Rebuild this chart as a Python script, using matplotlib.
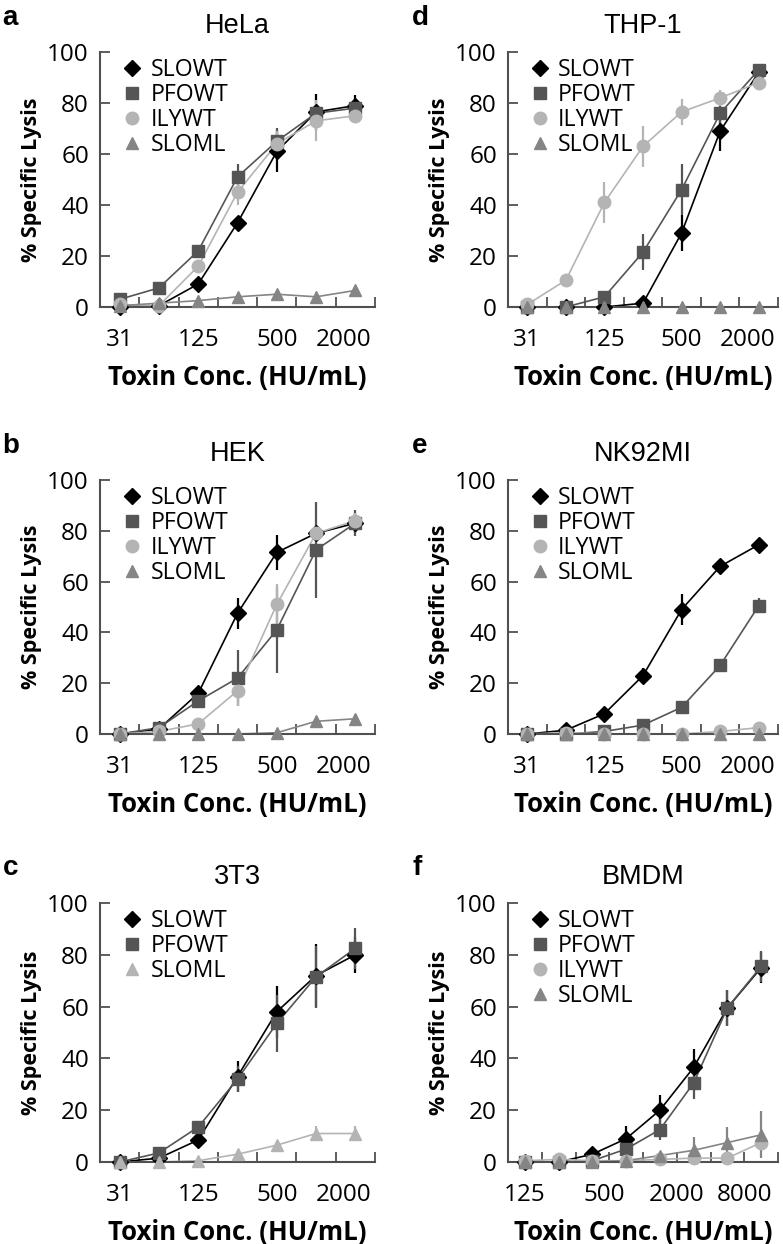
import numpy as np
import matplotlib
matplotlib.use("Agg")
import matplotlib.pyplot as plt
from matplotlib.lines import Line2D

plt.rcParams['font.family'] = ['Open Sans', 'DejaVu Sans']

# x categories (toxin conc, HU/mL)
conc_std = ['31', '62.5', '125', '250', '500', '1000', '2000']
conc_bmdm = ['125', '250', '500', '1000', '2000', '4000', '8000', '16000']
ticklabels_std = ['31', '125', '500', '2000']
ticklabels_bmdm = ['125', '500', '2000', '8000']

# a - HeLa
hela_slowt = [0, 0.5, 9, 33, 61, 76.5, 79]
hela_slowt_err = [0.5, 0.5, 1, 2, 8, 7, 4]
hela_pfowt = [3, 7.5, 22, 51, 65, 76, 78]
hela_pfowt_err = [1, 1, 2, 5, 5, 3, 3]
hela_ilywt = [1, 0.5, 16, 45, 64, 73, 75]
hela_ilywt_err = [0.5, 0.5, 1, 5, 5, 8, 2]
hela_sloml = [0.5, 1.5, 2.5, 4, 5, 4, 6.5]
hela_sloml_err = [0.5, 0.5, 0.5, 0.5, 0.5, 0.5, 0.5]

# d - THP-1
thp_slowt = [0, 0, 0, 1.5, 29, 69, 92]
thp_slowt_err = [0, 0, 0, 0.5, 7, 8, 2]
thp_pfowt = [0, 0, 4, 21.5, 46, 76, 93]
thp_pfowt_err = [0, 0, 1, 7, 10, 4, 2]
thp_ilywt = [1, 10.5, 41, 63, 76.5, 82, 88]
thp_ilywt_err = [0.5, 1, 8, 8, 5, 3, 2]
thp_sloml = [0, 0, 0, 0, 0, 0, 0]
thp_sloml_err = [0, 0, 0, 0, 0, 0, 0]

# b - HEK
hek_slowt = [0, 2, 16, 47.5, 71.5, 79, 83]
hek_slowt_err = [0, 0.5, 1, 6, 7, 3, 4]
hek_pfowt = [0, 2.5, 13, 22, 41, 72.5, 83]
hek_pfowt_err = [0, 0.5, 2, 11, 17, 19, 5]
hek_ilywt = [0, 1, 4, 17, 51, 79, 84]
hek_ilywt_err = [0, 0.5, 1, 6, 8, 3, 3]
hek_sloml = [0, 0, 0, 0, 0.5, 5, 6]
hek_sloml_err = [0, 0, 0, 0, 0.5, 1, 1]

# e - NK92MI
nk_slowt = [0, 1.5, 8, 23, 49, 66, 74.5]
nk_slowt_err = [0, 0.5, 1, 3, 6, 1.5, 1]
nk_pfowt = [0, 0, 1, 3.5, 10.5, 27, 50.5]
nk_pfowt_err = [0, 0, 0.5, 1, 1, 1.5, 3]
nk_ilywt = [0, 0.5, 0, 0, 0, 1, 2.5]
nk_ilywt_err = [0, 0, 0, 0, 0, 0, 0.5]
nk_sloml = [0, 0, 0, 0, 0, 0, 0]
nk_sloml_err = [0, 0, 0, 0, 0, 0, 0]

# c - 3T3
t3_slowt = [0, 1.5, 8.5, 33, 58, 72, 80]
t3_slowt_err = [0, 0.5, 1, 6, 10, 12, 7]
t3_pfowt = [0, 3.5, 13.5, 32, 53.5, 71.5, 82.5]
t3_pfowt_err = [0, 1, 2, 5, 11, 12, 8]
t3_sloml = [0, 0, 0.5, 3, 6.5, 11, 11]
t3_sloml_err = [0, 0, 0.5, 1, 1, 3, 3]

# f - BMDM
bm_slowt = [0, 0, 3, 9, 20, 36.5, 59.5, 75]
bm_slowt_err = [0, 0, 1, 5, 6, 7, 7, 6]
bm_pfowt = [0, 0, 0.5, 5, 12.5, 30.5, 59.5, 75.5]
bm_pfowt_err = [0, 0, 0.5, 2, 4, 6, 7, 6]
bm_ilywt = [0.5, 1, 0.5, 0.5, 1, 1.5, 1.5, 7.5]
bm_ilywt_err = [0, 0, 0, 0, 0, 1, 1, 3]
bm_sloml = [0, 0, 0, 0.5, 2.5, 4.5, 7.5, 10.5]
bm_sloml_err = [0, 0, 0, 0.5, 1, 5, 6, 9]

# style per series: marker, colour, marker size
STY = {
    'SLOWT': ('D', '#000000', 8),
    'PFOWT': ('s', '#555555', 9),
    'ILYWT': ('o', '#b4b4b4', 9),
    'SLOML': ('^', '#858585', 9),
}

AXCOL = '#505050'
ARIAL = ['Liberation Sans', 'DejaVu Sans']


def panel(ax, letter, title, cats, series, ticklabels, tickpos, sloml_col=None):
    x = np.arange(len(cats))
    handles = []
    for name, y, err in series:
        mk, col, ms = STY[name]
        if name == 'SLOML' and sloml_col:
            col = sloml_col
        ax.plot(x, y, color=col, lw=1.2, zorder=2, clip_on=False)
        ax.errorbar(x, y, yerr=err, fmt='none', ecolor=col, elinewidth=1.6,
                    capsize=0, zorder=2, clip_on=False)
        ax.plot(x, y, ls='none', marker=mk, ms=ms, color=col, mec=col,
                zorder=3, clip_on=False)
        handles.append(Line2D([], [], ls='none', marker=mk, ms=ms, color=col, label=name))
    ax.legend(handles=handles, loc='upper left', bbox_to_anchor=(0.04, 1.012),
              frameon=False, fontsize=16.7, handletextpad=0.3, labelspacing=0.04,
              handlelength=1.0, borderaxespad=0.0)

    n = len(cats)
    ax.set_xlim(-0.5, n - 0.5)
    ax.set_ylim(0, 100)
    ax.set_yticks(np.arange(0, 101, 20))
    # tick marks sit between categories, labels are placed separately
    ax.xaxis.remove_overlapping_locs = False
    ax.set_xticks(np.arange(-0.5, n, 1.0))
    ax.set_xticklabels([])
    ax.set_xticks(tickpos, minor=True)
    ax.set_xticklabels(ticklabels, minor=True)
    ax.tick_params(axis='x', which='major', direction='in', length=7, width=1.3, color=AXCOL)
    ax.tick_params(axis='x', which='minor', length=0, pad=15, labelsize=17.5)
    ax.tick_params(axis='y', direction='in', length=7, width=1.3, color=AXCOL,
                   labelsize=17.5, pad=8)
    for s in ['top', 'right']:
        ax.spines[s].set_visible(False)
    for s in ['left', 'bottom']:
        ax.spines[s].set_color(AXCOL)
        ax.spines[s].set_linewidth(1.5)
    ax.set_title(title, fontsize=19.5, pad=13.5, family=ARIAL)
    ax.set_xlabel('Toxin Conc. (HU/mL)', fontsize=18.5, fontweight='bold', labelpad=9)
    ax.set_ylabel('% Specific Lysis', fontsize=15.5, fontweight='bold', labelpad=4)
    ax.text(-0.355, 1.135, letter, transform=ax.transAxes, fontsize=20,
            fontweight='bold', va='center', ha='left', family=ARIAL)


fig = plt.figure(figsize=(7.83, 12.44), dpi=100)

lx, rx = 100 / 783, 508 / 783
lw_, rw_ = 275 / 783, 270 / 783
H = 1244
rows = [(52, 307), (480, 734), (903, 1162)]

axes = []
for top, bot in rows:
    b = 1 - bot / H
    h = (bot - top) / H
    axes.append((fig.add_axes([lx, b, lw_, h]), fig.add_axes([rx, b, rw_, h])))

tp_std = [0, 2, 4, 5.7]
tp_bm = [0, 2.35, 4.5, 6.5]

panel(axes[0][0], 'a', 'HeLa', conc_std, [
    ('SLOWT', hela_slowt, hela_slowt_err),
    ('PFOWT', hela_pfowt, hela_pfowt_err),
    ('ILYWT', hela_ilywt, hela_ilywt_err),
    ('SLOML', hela_sloml, hela_sloml_err)], ticklabels_std, tp_std)

panel(axes[0][1], 'd', 'THP-1', conc_std, [
    ('SLOWT', thp_slowt, thp_slowt_err),
    ('PFOWT', thp_pfowt, thp_pfowt_err),
    ('ILYWT', thp_ilywt, thp_ilywt_err),
    ('SLOML', thp_sloml, thp_sloml_err)], ticklabels_std, tp_std)

panel(axes[1][0], 'b', 'HEK', conc_std, [
    ('SLOWT', hek_slowt, hek_slowt_err),
    ('PFOWT', hek_pfowt, hek_pfowt_err),
    ('ILYWT', hek_ilywt, hek_ilywt_err),
    ('SLOML', hek_sloml, hek_sloml_err)], ticklabels_std, tp_std)

panel(axes[1][1], 'e', 'NK92MI', conc_std, [
    ('SLOWT', nk_slowt, nk_slowt_err),
    ('PFOWT', nk_pfowt, nk_pfowt_err),
    ('ILYWT', nk_ilywt, nk_ilywt_err),
    ('SLOML', nk_sloml, nk_sloml_err)], ticklabels_std, tp_std)

panel(axes[2][0], 'c', '3T3', conc_std, [
    ('SLOWT', t3_slowt, t3_slowt_err),
    ('PFOWT', t3_pfowt, t3_pfowt_err),
    ('SLOML', t3_sloml, t3_sloml_err)], ticklabels_std, tp_std, sloml_col='#b4b4b4')

panel(axes[2][1], 'f', 'BMDM', conc_bmdm, [
    ('SLOWT', bm_slowt, bm_slowt_err),
    ('PFOWT', bm_pfowt, bm_pfowt_err),
    ('ILYWT', bm_ilywt, bm_ilywt_err),
    ('SLOML', bm_sloml, bm_sloml_err)], ticklabels_bmdm, tp_bm)

fig.savefig('out.png', dpi=100)
